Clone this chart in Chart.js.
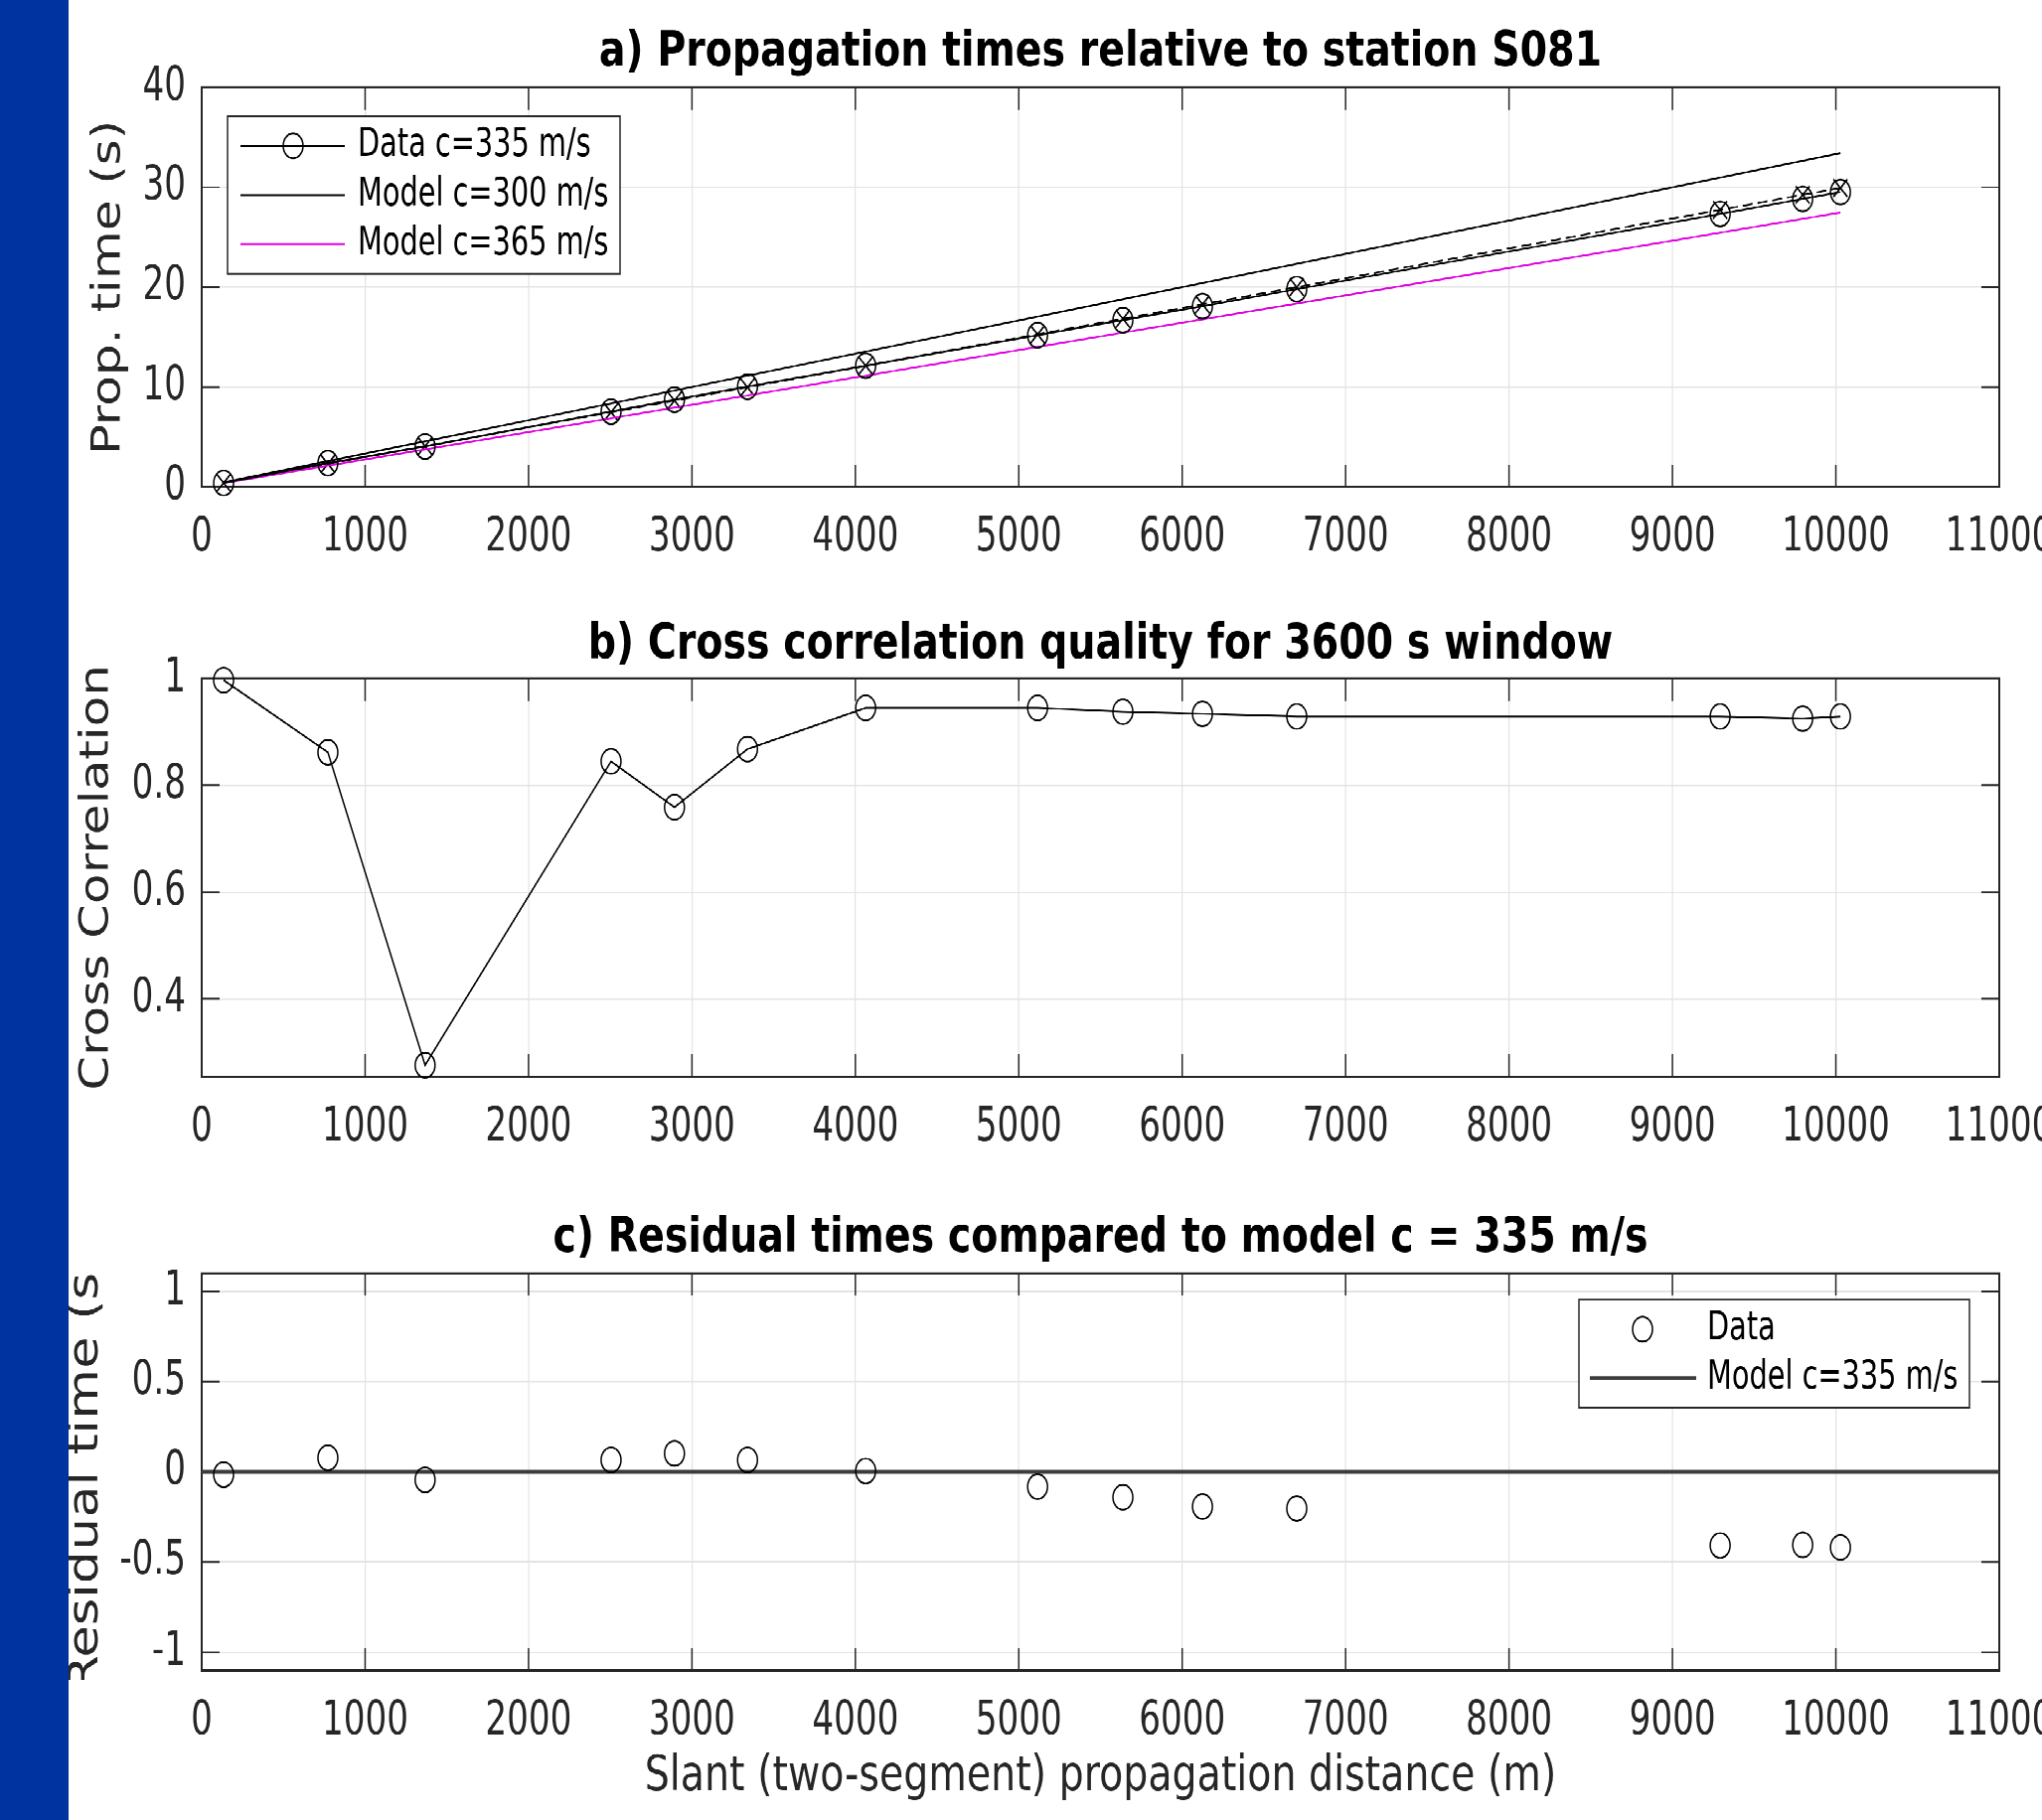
<!DOCTYPE html>
<html>
<head>
<meta charset="utf-8">
<script src="https://cdn.jsdelivr.net/npm/chart.js@4"></script>
<style>
  html, body { margin: 0; padding: 0; background: #fff; overflow: hidden; }
  body { width: 2055px; height: 1832px; position: relative; }
  /* the source figure is stretched vertically, so the whole page is too */
  #stretch { position: absolute; left: 0; top: 0; width: 2215px; height: 1466px;
             transform: scaleY(1.25); transform-origin: 0 0; }
  #stretch canvas { position: absolute; left: 0; }
  #band { position: absolute; left: 0; top: 0; width: 69px; height: 1832px;
          background: #0033a0; z-index: 5; }
</style>
</head>
<body>
<div id="stretch">
  <canvas id="chartA" width="2215" height="470" style="top:0px"></canvas>
  <canvas id="chartB" width="2215" height="470" style="top:470px"></canvas>
  <canvas id="chartC" width="2215" height="526" style="top:940px"></canvas>
</div>
<div id="band"></div>

<script>
// distances of the stations (m)
const distance = [134, 772, 1367, 2505, 2893, 3340, 4063, 5115, 5637, 6124, 6701, 9292, 9797, 10028];

// a) measured propagation times (s)
const propTime = [0.39, 2.38, 4.04, 7.54, 8.74, 10.04, 12.13, 15.19, 16.69, 18.09, 19.80, 27.33, 28.84, 29.52];

// a) c=335 model at the same stations (x marks, dashed)
const model335 = [0.40, 2.30, 4.08, 7.48, 8.64, 9.97, 12.13, 15.27, 16.83, 18.28, 20.00, 27.74, 29.25, 29.93];

// a) straight model lines, end points
const modelDist = [134, 10028];
const model300 = [0.45, 33.43];
const model365 = [0.37, 27.47];

// b) cross correlation quality
const crossCorr = [0.997, 0.862, 0.276, 0.845, 0.759, 0.868, 0.945, 0.945, 0.938, 0.934, 0.929, 0.929, 0.925, 0.929];

// c) residual times (s)
const residual = [-0.015, 0.078, -0.044, 0.066, 0.102, 0.066, 0.005, -0.082, -0.141, -0.192, -0.203, -0.408, -0.405, -0.419];
const residModelDist = [0, 11000];
const residModel = [0, 0];

// titles
const titleA = "a) Propagation times relative to station S081";
const titleB = "b) Cross correlation quality for 3600 s window";
const titleC = "c) Residual times compared to model c = 335 m/s";
const xTitle = "Slant (two-segment) propagation distance (m)";


Chart.defaults.font.family = "'DejaVu Sans', sans-serif";
Chart.defaults.color = "#262626";

const AXIS = "#262626";
const GRID = "#e3e3e3";
const FAMILY = "'DejaVu Sans', sans-serif";
const NARROW = "'DejaVu Sans Condensed', 'DejaVu Sans', sans-serif";

function pts(xs, ys) {
  return xs.map((x, i) => ({ x: x, y: ys[i] }));
}


// box round the axes and inward ticks on all four sides
const matlabBox = {
  id: "matlabBox",
  beforeDatasetsDraw(chart) {
    const { ctx, chartArea: a, scales } = chart;
    const len = 18;
    ctx.save();
    ctx.strokeStyle = AXIS;
    ctx.lineWidth = 1.5;
    ctx.beginPath();
    scales.x.ticks.forEach(t => {
      const px = scales.x.getPixelForValue(t.value);
      ctx.moveTo(px, a.bottom); ctx.lineTo(px, a.bottom - len);
      ctx.moveTo(px, a.top); ctx.lineTo(px, a.top + len);
    });
    scales.y.ticks.forEach(t => {
      const py = scales.y.getPixelForValue(t.value);
      ctx.moveTo(a.left, py); ctx.lineTo(a.left + len, py);
      ctx.moveTo(a.right, py); ctx.lineTo(a.right - len, py);
    });
    ctx.stroke();
    ctx.lineWidth = 2;
    ctx.strokeRect(a.left, a.top, a.right - a.left, a.bottom - a.top);
    ctx.restore();
  }
};


// rotated y title, optionally clipped to the axes height
const sideTitle = {
  id: "sideTitle",
  afterDraw(chart, args, o) {
    if (!o.text) return;
    const { ctx, chartArea: a } = chart;
    ctx.save();
    if (o.clip) {
      ctx.beginPath();
      ctx.rect(0, a.top, a.left, a.bottom - a.top + 8);
      ctx.clip();
    }
    ctx.translate(o.x, (a.top + a.bottom) / 2);
    ctx.rotate(-Math.PI / 2);
    ctx.font = o.size + "px " + FAMILY;
    ctx.fillStyle = AXIS;
    ctx.textAlign = "center";
    ctx.textBaseline = "middle";
    ctx.fillText(o.text, 0, 0);
    ctx.restore();
  }
};


// legend in a box inside the axes
const boxLegend = {
  id: "boxLegend",
  afterDatasetsDraw(chart, args, o) {
    if (!o.width) return;
    const { ctx, chartArea: a } = chart;
    const items = chart.data.datasets.filter(d => d.showInLegend);
    const h = o.padY * 2 + o.rowH * (items.length - 1);
    const left = o.side === "right" ? a.right - o.inset - o.width : a.left + o.inset;
    const top = a.top + o.top;

    ctx.save();
    ctx.fillStyle = "#fff";
    ctx.fillRect(left, top, o.width, h);
    ctx.strokeStyle = AXIS;
    ctx.lineWidth = 1.5;
    ctx.strokeRect(left, top, o.width, h);

    items.forEach((ds, i) => {
      const cy = top + o.padY + i * o.rowH;
      if (ds.showLine !== false) {
        ctx.beginPath();
        ctx.strokeStyle = ds.borderColor;
        ctx.lineWidth = ds.borderWidth;
        ctx.moveTo(left + o.lineFrom, cy);
        ctx.lineTo(left + o.lineTo, cy);
        ctx.stroke();
      }
      if (ds.pointRadius > 0) {
        ctx.beginPath();
        ctx.strokeStyle = "#000";
        ctx.lineWidth = ds.pointBorderWidth;
        ctx.arc(left + o.markX, cy, ds.pointRadius, 0, Math.PI * 2);
        ctx.stroke();
      }
      ctx.fillStyle = "#000";
      ctx.font = o.size + "px " + NARROW;
      ctx.textAlign = "left";
      ctx.textBaseline = "middle";
      ctx.fillText(ds.label, left + o.textX, cy);
    });
    ctx.restore();
  }
};


// shared axis builders
function xAxis(height, title) {
  return {
    type: "linear",
    min: 0,
    max: 11000,
    ticks: {
      stepSize: 1000,
      autoSkip: false,
      maxRotation: 0,
      padding: 19,
      font: { size: 38, family: NARROW },
      color: AXIS,
      callback: v => String(v)
    },
    grid: { color: GRID, lineWidth: 1.2, drawTicks: false },
    border: { display: false },
    title: title ? {
      display: true,
      text: title,
      color: AXIS,
      font: { size: 39.5, lineHeight: 1.2 },
      padding: { top: 0, bottom: 11 }
    } : { display: false },
    afterFit: s => { s.height = height; s.paddingLeft = 0; s.paddingRight = 0; }
  };
}

function yAxis(min, max, step) {
  return {
    type: "linear",
    min: min,
    max: max,
    ticks: {
      stepSize: step,
      includeBounds: false,
      padding: 16,
      font: { size: 38, family: NARROW },
      color: AXIS,
      callback: v => String(+v.toFixed(2))
    },
    grid: { color: GRID, lineWidth: 1.2, drawTicks: false },
    border: { display: false },
    afterFit: s => { s.width = 203; }
  };
}

// empty right axis of the same width, so the title centres on the axes
const spacerAxis = {
  type: "linear",
  position: "right",
  display: true,
  ticks: { display: false },
  grid: { display: false, drawOnChartArea: false },
  border: { display: false },
  afterFit: s => { s.width = 203; }
};

function options(cfg) {
  return {
    responsive: false,
    animation: false,
    devicePixelRatio: 2,
    events: [],
    layout: { padding: 0 },
    scales: {
      x: xAxis(cfg.xHeight, cfg.xTitle),
      y: yAxis(cfg.yMin, cfg.yMax, cfg.yStep),
      spacer: spacerAxis
    },
    plugins: {
      legend: { display: false },
      tooltip: { enabled: false },
      title: {
        display: true,
        text: cfg.title,
        color: "#000",
        font: { size: 39.5, weight: "bold", lineHeight: 1.2 },
        padding: { top: cfg.padTop, bottom: cfg.padBottom }
      },
      sideTitle: cfg.side,
      boxLegend: cfg.legend || {}
    }
  };
}


// a) propagation times
new Chart(document.getElementById("chartA"), {
  type: "scatter",
  data: {
    datasets: [
      {
        label: "Data c=335 m/s",
        data: pts(distance, propTime),
        showLine: true,
        borderColor: "#000",
        borderWidth: 1.5,
        pointStyle: "circle",
        pointRadius: 10,
        pointBorderWidth: 1.5,
        pointBorderColor: "#000",
        pointBackgroundColor: "rgba(0,0,0,0)",
        showInLegend: true,
        clip: false
      },
      {
        label: "Model c=300 m/s",
        data: pts(modelDist, model300),
        showLine: true,
        borderColor: "#000",
        borderWidth: 1.5,
        pointRadius: 0,
        showInLegend: true
      },
      {
        label: "Model c=365 m/s",
        data: pts(modelDist, model365),
        showLine: true,
        borderColor: "#e000e0",
        borderWidth: 1.5,
        pointRadius: 0,
        showInLegend: true
      },
      {
        label: "Model c=335 m/s",
        data: pts(distance, model335),
        showLine: true,
        borderColor: "#000",
        borderWidth: 1.5,
        borderDash: [10, 5],
        pointStyle: "crossRot",
        pointRadius: 10,
        pointBorderWidth: 1.5,
        pointBorderColor: "#000",
        clip: false
      }
    ]
  },
  options: options({
    title: titleA, padTop: 19, padBottom: 4,
    xHeight: 78, yMin: 0, yMax: 40, yStep: 10,
    side: { text: "Prop. time (s)", x: 110, size: 40 },
    legend: { side: "left", inset: 26, top: 23, width: 395, padY: 24, rowH: 39.6,
              lineFrom: 13, lineTo: 118, markX: 66, textX: 131, size: 32 }
  }),
  plugins: [matlabBox, sideTitle, boxLegend]
});


// b) cross correlation
new Chart(document.getElementById("chartB"), {
  type: "scatter",
  data: {
    datasets: [
      {
        label: "Cross correlation",
        data: pts(distance, crossCorr),
        showLine: true,
        borderColor: "#000",
        borderWidth: 1.5,
        pointStyle: "circle",
        pointRadius: 10,
        pointBorderWidth: 1.5,
        pointBorderColor: "#000",
        pointBackgroundColor: "rgba(0,0,0,0)",
        clip: false
      }
    ]
  },
  options: options({
    title: titleB, padTop: 26, padBottom: 3,
    xHeight: 73, yMin: 0.2545, yMax: 1, yStep: 0.2,
    side: { text: "Cross Correlation", x: 98, size: 40 }
  }),
  plugins: [matlabBox, sideTitle]
});


// c) residuals
new Chart(document.getElementById("chartC"), {
  type: "scatter",
  data: {
    datasets: [
      {
        label: "Data",
        data: pts(distance, residual),
        showLine: false,
        pointStyle: "circle",
        pointRadius: 10,
        pointBorderWidth: 1.5,
        pointBorderColor: "#000",
        pointBackgroundColor: "rgba(0,0,0,0)",
        showInLegend: true,
        clip: false
      },
      {
        label: "Model c=335 m/s",
        data: pts(residModelDist, residModel),
        showLine: true,
        borderColor: "#3c3c3c",
        borderWidth: 3,
        pointRadius: 0,
        showInLegend: true
      }
    ]
  },
  options: options({
    title: titleC, padTop: 34, padBottom: 4,
    xHeight: 121, xTitle: xTitle, yMin: -1.1, yMax: 1.1, yStep: 0.5,
    side: { text: "Residual time (s)", x: 87, size: 42, clip: true },
    legend: { side: "right", inset: 30, top: 21, width: 393, padY: 24, rowH: 39.2,
              lineFrom: 11, lineTo: 118, markX: 64, textX: 129, size: 32 }
  }),
  plugins: [matlabBox, sideTitle, boxLegend]
});
</script>
</body>
</html>
